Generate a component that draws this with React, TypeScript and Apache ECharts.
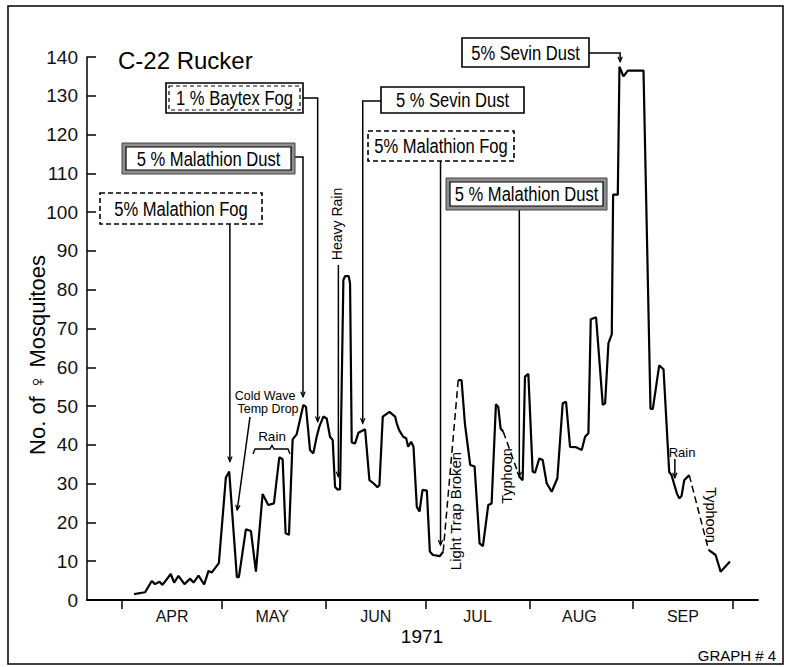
import React, { useEffect, useRef } from "react";
import * as echarts from "echarts";

// Days counted from 1 April 1971
const monthTickDays = [0, 30, 61, 91, 122, 153, 183];
const monthLabelDays = [15, 45, 76, 106.5, 137, 168];
const monthNames = ["APR", "MAY", "JUN", "JUL", "AUG", "SEP"];

const days = [
  3.6, 6.9, 8.9, 9.9, 11.2, 12.1, 14.6, 15.6, 16.9, 18.7, 20.4, 21.4, 22.9, 24.6, 25.9, 26.9, 29.0,
  31.1, 32.1, 34.4, 35.0, 37.1, 38.6, 40.1, 42.1, 43.8, 45.5, 47.1, 48.1, 49.0, 50.0, 51.1, 52.3,
  54.3, 55.1, 56.3, 57.3, 58.3, 59.1, 60.3, 61.3, 62.3, 63.1, 63.8, 64.5, 65.3, 66.3, 66.8, 67.9,
  68.3, 68.8, 69.8, 70.8, 72.8, 74.1, 75.3, 76.5, 77.1, 78.1, 80.1, 81.8, 82.3, 83.0, 84.2, 85.1,
  85.7, 86.6, 87.3, 88.3, 89.1, 90.0, 91.3, 92.2, 93.1, 95.2, 96.2, 100.7, 101.7, 102.7, 104.3,
  105.6, 107.1, 108.1, 109.7, 110.7, 112.0, 112.7, 113.4, 114.2, 119.0, 120.0, 120.7, 121.7, 123.0,
  123.7, 125.0, 126.0, 127.2, 128.7, 130.4, 132.0, 133.0, 134.2, 136.0, 137.7, 138.7, 139.7, 140.4,
  142.0, 144.0, 144.7, 145.7, 146.7, 147.1, 148.5, 149.0, 150.2, 151.5, 156.2, 158.3, 159.0, 160.9,
  162.2, 163.9, 164.6, 166.2, 166.9, 167.6, 168.4, 169.9, 175.7, 177.8, 179.3, 182.1,
];
const mosquitoes = [
  1.5, 2.0, 4.9, 4.1, 4.7, 3.9, 6.7, 4.5, 6.2, 4.1, 5.5, 4.5, 6.3, 4.0, 7.5, 7.1, 9.5,
  31.6, 33.1, 5.9, 5.9, 18.2, 17.8, 7.3, 27.3, 24.5, 24.9, 36.8, 36.3, 17.2, 16.8, 41.4, 42.7,
  50.3, 49.8, 38.7, 37.8, 42.1, 44.7, 47.3, 46.8, 42.1, 41.2, 29.2, 28.5, 28.5, 82.5, 83.5, 83.5,
  81.6, 40.6, 40.4, 43.1, 44.0, 30.9, 30.1, 29.1, 29.6, 47.3, 48.5, 47.3, 45.5, 43.8, 42.1, 41.7,
  39.5, 40.8, 39.5, 24.0, 22.8, 28.4, 28.2, 12.5, 11.6, 11.3, 12.5, 56.7, 56.7, 45.5, 34.8,
  34.4, 14.6, 13.9, 24.5, 24.9, 50.5, 49.8, 44.2, 43.4, 31.8, 30.9, 57.6, 58.3, 33.1,
  32.8, 36.5, 36.1, 30.1, 27.9, 31.4, 50.7, 51.1, 39.5, 39.4, 38.7, 42.1, 43.0, 72.4,
  72.9, 50.3, 50.7, 66.2, 68.5, 104.5, 104.5, 137.5, 135.0, 136.5, 136.5, 49.3, 49.3, 60.5,
  59.5, 33.0, 32.2, 27.5, 26.2, 26.8, 30.9, 32.2, 12.9, 11.6, 7.3, 9.9,
];
// segment from index i to i+1 is drawn dashed (light trap broken, typhoons)
const dashedAfter = [75, 88, 129];

const FONT = '"Liberation Sans", Arial, sans-serif';

export default function App() {
  const ref = useRef<HTMLDivElement>(null);

  useEffect(() => {
    if (!ref.current) return;
    const chart = echarts.init(ref.current, null, { renderer: "svg" });

    const solidSegs: number[][][] = [];
    let cur: number[][] = [];
    const dashedData: any[] = [];
    for (let i = 0; i < days.length; i++) {
      cur.push([days[i], mosquitoes[i]]);
      if (dashedAfter.includes(i)) {
        solidSegs.push(cur);
        cur = [];
        if (dashedData.length) dashedData.push("-");
        dashedData.push([days[i], mosquitoes[i]], [days[i + 1], mosquitoes[i + 1]]);
      }
    }
    if (cur.length) solidSegs.push(cur);

    const series: any[] = solidSegs.map((seg) => ({
      type: "line",
      data: seg,
      showSymbol: false,
      symbol: "none",
      lineStyle: { color: "#000", width: 2.2 },
      z: 5,
    }));
    series.push({
      type: "line",
      data: dashedData,
      connectNulls: false,
      showSymbol: false,
      symbol: "none",
      lineStyle: { color: "#000", width: 1.5, type: [7, 4] },
      z: 5,
    });

    chart.setOption({
      animation: false,
      backgroundColor: "#fff",
      grid: { left: 87, top: 57, width: 671, height: 543, containLabel: false },
      xAxis: {
        type: "value",
        min: -10.5,
        max: 190.5,
        axisLine: { show: true, onZero: false, lineStyle: { color: "#000", width: 2 } },
        axisTick: {
          show: true,
          customValues: monthTickDays,
          length: 9,
          inside: false,
          lineStyle: { color: "#000", width: 1.5 },
        },
        axisLabel: {
          show: true,
          customValues: monthLabelDays,
          margin: 8,
          color: "#111",
          fontSize: 16,
          fontFamily: FONT,
          formatter: (v: number) => {
            let best = 0;
            for (let i = 0; i < monthLabelDays.length; i++) {
              if (Math.abs(monthLabelDays[i] - v) < Math.abs(monthLabelDays[best] - v)) best = i;
            }
            return monthNames[best];
          },
        },
        splitLine: { show: false },
      },
      yAxis: {
        type: "value",
        min: 0,
        max: 140,
        interval: 10,
        axisLine: { show: true, onZero: false, lineStyle: { color: "#000", width: 1.5 } },
        axisTick: { show: true, inside: true, length: 9, lineStyle: { color: "#000", width: 1.5 } },
        axisLabel: { color: "#111", fontSize: 19, fontFamily: FONT, margin: 9 },
        splitLine: { show: false },
      },
      series,
    });

    const P = (d: number, v: number) =>
      chart.convertToPixel({ gridIndex: 0 } as any, [d, v]) as number[];

    const g: any[] = [];
    const txt = (x: number, y: number, text: string, size: number, rot = 0, extra: any = {}, sx = 1) => ({
      type: "text",
      x,
      y,
      rotation: rot,
      scaleX: sx,
      z: 20,
      style: {
        text,
        fill: "#000",
        font: `${size}px ${FONT}`,
        fontSize: size,
        fontFamily: FONT,
        align: "center",
        verticalAlign: "middle",
        textAlign: "center",
        textVerticalAlign: "middle",
        ...extra,
      },
    });
    const line = (pts: number[][], w = 1.5) => ({
      type: "polyline",
      z: 10,
      shape: { points: pts },
      style: { stroke: "#000", lineWidth: w, fill: "none" },
    });
    const arrow = (from: number[], to: number[]) => {
      const dx = to[0] - from[0];
      const dy = to[1] - from[1];
      const L = Math.hypot(dx, dy) || 1;
      const ux = dx / L, uy = dy / L;
      const bx = to[0] - ux * 5, by = to[1] - uy * 5;
      const nx = -uy * 2.2, ny = ux * 2.2;
      return line([[bx + nx, by + ny], to, [bx - nx, by - ny]], 1.2);
    };
    const leader = (pts: number[][]) => {
      g.push(line(pts));
      g.push(arrow(pts[pts.length - 2], pts[pts.length - 1]));
    };
    const box = (x: number, y: number, w: number, h: number, text: string, kind: string) => {
      if (kind === "shaded") {
        g.push({ type: "rect", z: 15, shape: { x, y, width: w, height: h }, style: { fill: "#8e8e8e", stroke: "#444", lineWidth: 1 } });
        g.push({ type: "rect", z: 16, shape: { x: x + 4, y: y + 4, width: w - 8, height: h - 8 }, style: { fill: "#fff", stroke: "#000", lineWidth: 1.2 } });
      } else if (kind === "dashed") {
        g.push({ type: "rect", z: 15, shape: { x, y, width: w, height: h }, style: { fill: "#fff", stroke: "#000", lineWidth: 1.6, lineDash: [5, 3] } });
      } else if (kind === "double") {
        g.push({ type: "rect", z: 15, shape: { x, y, width: w, height: h }, style: { fill: "#fff", stroke: "#000", lineWidth: 1.6 } });
        g.push({ type: "rect", z: 16, shape: { x: x + 3, y: y + 3, width: w - 6, height: h - 6 }, style: { fill: "none", stroke: "#000", lineWidth: 1.2, lineDash: [4, 3] } });
      } else {
        g.push({ type: "rect", z: 15, shape: { x, y, width: w, height: h }, style: { fill: "#fff", stroke: "#000", lineWidth: 1.6 } });
      }
      g.push(txt(x + w / 2, y + h / 2 + 1, text, 19.5, 0, {}, 0.85));
    };

    // frame
    g.push({ type: "rect", z: 1, shape: { x: 8, y: 6, width: 775, height: 658 }, style: { fill: "none", stroke: "#000", lineWidth: 1.5 } });

    // leaders (ends anchored on data coordinates)
    const fog1 = P(32.3, 35.7);
    leader([[fog1[0], 224], fog1]);
    const dust1 = P(54.2, 52.4);
    leader([[295, 157], [dust1[0], 157], dust1]);
    const bay = P(58.6, 46.0);
    leader([[303, 98], [bay[0], 98], bay]);
    const sev1 = P(149.2, 138.8);
    leader([[589, 53], [sev1[0], 53], sev1]);
    const sev2 = P(72.1, 45.6);
    leader([[381, 101], [sev2[0], 101], sev2]);
    const fog2 = P(95.4, 14.2);
    leader([[fog2[0], 161], fog2]);
    const dust2 = P(119.0, 31.8);
    leader([[dust2[0], 210], dust2]);
    const hr = P(64.8, 31.8);
    leader([[hr[0], 265], hr]);
    const cw = P(34.5, 23.2);
    leader([[250, 417], cw]);
    const sr = P(165.6, 31.5);
    leader([[sr[0], 459], sr]);

    // boxes
    box(100, 193, 162, 31, "5% Malathion Fog", "dashed");
    box(122, 143, 173, 31, "5 % Malathion Dust", "shaded");
    box(166, 83, 137, 30, "1 % Baytex Fog", "double");
    box(462, 38, 127, 29, "5% Sevin Dust", "solid");
    box(381, 87, 143, 26, "5 % Sevin Dust", "solid");
    box(368, 131, 146, 30, "5% Malathion Fog", "dashed");
    box(446, 178, 161, 32, "5 % Malathion Dust", "shaded");

    // texts
    g.push(txt(118, 60, "C-22 Rucker", 24, 0, { align: "left", textAlign: "left" }));
    g.push(txt(37, 355, "No. of \u2640 Mosquitoes", 22, Math.PI / 2));
    g.push(txt(337, 224, "Heavy Rain", 14, Math.PI / 2));
    g.push(txt(265, 396, "Cold Wave", 12.5));
    g.push(txt(268, 409, "Temp Drop", 12.5));
    g.push(txt(272, 436, "Rain", 13.5));
    g.push(line([[253, 454], [255, 449], [270, 449], [272, 445.5], [274, 449], [288, 449], [290, 454]], 1.4));
    g.push(txt(455, 511, "Light Trap Broken", 15, Math.PI / 2));
    g.push(txt(507, 476, "Typhoon", 14.5, Math.PI / 2));
    g.push(txt(682, 452, "Rain", 13));
    g.push(txt(711, 515, "Typhoon", 14.5, -Math.PI / 2));
    g.push(txt(422, 636, "1971", 19));
    g.push(txt(737, 655, "GRAPH # 4", 15));

    chart.setOption({ graphic: { elements: g } });

    return () => chart.dispose();
  }, []);

  return (
    <div
      ref={ref}
      style={{ position: "fixed", left: 0, top: 0, width: 788, height: 667, background: "#fff" }}
    />
  );
}
